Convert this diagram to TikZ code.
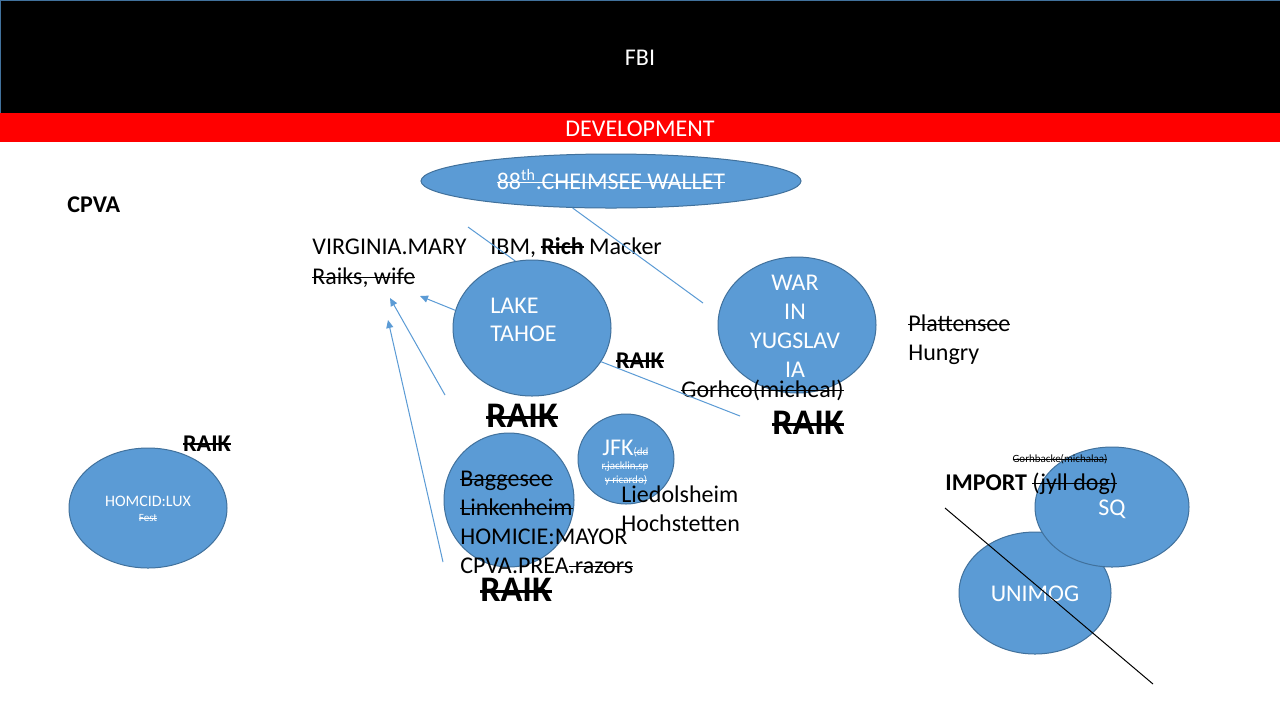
\documentclass[tikz,border=0pt]{standalone}
\usepackage{fontspec}
\setmainfont{Carlito}
\usetikzlibrary{shapes.geometric,arrows.meta}
\definecolor{blobfill}{HTML}{5B9BD5}
\definecolor{blobline}{HTML}{41719C}
\definecolor{linkblue}{HTML}{5B9BD5}
\newsavebox\strkbox
\newcommand\strk[2][0.6pt]{\sbox\strkbox{#2}\rlap{\rule[0.23em]{\wd\strkbox}{#1}}\usebox\strkbox}
\newcommand\bsout[1]{\strk[1.0pt]{#1}}
\newcommand\bbsout[1]{\strk[1.4pt]{#1}}
\newcommand\tsout[1]{\strk[0.35pt]{#1}}
\begin{document}
\begin{tikzpicture}[x=0.5pt,y=-0.5pt,
  blob/.style={ellipse, fill=blobfill, draw=blobline, line width=0.5pt, inner sep=0},
  txt/.style={inner sep=0, anchor=base west, font=\fontsize{12}{14}\selectfont},
  ctxt/.style={txt, anchor=base},
  wtxt/.style={txt, text=white},
  wctxt/.style={ctxt, text=white},
  bigraik/.style={ctxt, font=\fontsize{18}{20}\selectfont\bfseries},
  smallraik/.style={ctxt, font=\fontsize{12}{14}\selectfont\bfseries},
  tiny/.style={inner sep=0, anchor=base, font=\fontsize{5.5}{6}\selectfont},
  link/.style={draw=linkblue, line width=0.5pt},
  arr/.style={link, -{Triangle[length=4pt,width=3.5pt]}}]
\useasboundingbox (0,0) rectangle (1280,720);
\fill[white] (0,0) rectangle (1280,720);
% header bars
\node[fill=black, draw=blobline, line width=0.5pt, minimum width=640pt, minimum height=56.5pt, inner sep=0, anchor=north west] (fbibar) at (0,0) {};
\node[wctxt] (fbi) at (640,65) {FBI};
\node[fill=red, minimum width=640pt, minimum height=14.5pt, inner sep=0, anchor=north west] (devbar) at (0,113) {};
\node[wctxt] (dev) at (640,136) {DEVELOPMENT};
% ellipses
\node[blob, minimum width=190pt, minimum height=27pt] (cheim) at (611,181) {};
\node[wctxt] (cheimt) at (611,189) {\strk{88\textsuperscript{th}.CHEIMSEE WALLET}};
\node[blob, minimum width=79pt, minimum height=68pt] (tahoe) at (532,328) {};
\node[wtxt] (lake) at (490,313) {LAKE};
\node[wtxt] (tahoet) at (490,341) {TAHOE};
\node[blob, minimum width=79pt, minimum height=68pt] (war) at (797,325) {};
\node[wctxt] (war1) at (795,290) {WAR};
\node[wctxt] (war2) at (795,319) {IN};
\node[wctxt] (war3) at (795,348) {YUGSLAV};
\node[wctxt] (war4) at (795,377) {IA};
\node[blob, minimum width=79pt, minimum height=60pt] (homcid) at (148,508) {};
\node[wctxt, font=\fontsize{8}{9}\selectfont] (homcidt) at (148,506) {HOMCID:LUX};
\node[tiny, text=white] (fest) at (148,521) {\tsout{Fest}};
\node[blob, minimum width=65pt, minimum height=67pt] (bagg) at (509,500) {};
\node[blob, minimum width=48pt, minimum height=45pt] (jfk) at (626,459) {};
\node[wtxt] (jfkt) at (602,455) {JFK{\fontsize{5.5}{6}\selectfont\tsout{(dd}}};
\node[tiny, text=white] (jfk2) at (625,469) {\tsout{r,jacklin,sp}};
\node[tiny, text=white] (jfk3) at (626,483) {\tsout{y ricardo)}};
\node[blob, minimum width=76pt, minimum height=61pt] (unimog) at (1035,593) {};
\node[blob, minimum width=77pt, minimum height=60pt] (sq) at (1112,507) {};
\node[wctxt] (sqt) at (1112,515) {SQ};
\node[wctxt] (unimogt) at (1035,601) {UNIMOG};
% texts
\node[txt, font=\fontsize{12}{14}\selectfont\bfseries] (cpva) at (67,212) {CPVA};
\node[txt] (virginia) at (312,254) {VIRGINIA.MARY};
\node[txt] (raiks) at (312,284) {\strk{Raiks, wife}};
\node[txt] (ibm) at (490,254) {IBM, {\bfseries\bsout{Rich}} Macker};
\node[txt] (platt) at (908,331) {\strk{Plattensee}};
\node[txt] (hungry) at (908,360) {Hungry};
\node[smallraik] (raik1) at (640,368) {\bsout{RAIK}};
\node[txt] (gorhco) at (681,397) {\strk{Gorhco(micheal)}};
\node[bigraik] (raik2) at (808,434.5) {\bbsout{RAIK}};
\node[bigraik] (raik3) at (522,427.5) {\bbsout{RAIK}};
\node[smallraik] (raik4) at (207,451) {\bsout{RAIK}};
\node[txt] (bagt1) at (460,486) {\strk{Baggesee}};
\node[txt] (bagt2) at (460,515) {\strk{Linkenheim}};
\node[txt] (bagt3) at (460,544) {HOMICIE:MAYOR};
\node[txt] (bagt4) at (460,573) {CPVA.PREA\strk{.razors}};
\node[bigraik] (raik5) at (516,601.5) {\bbsout{RAIK}};
\node[txt] (lied) at (621,502) {Liedolsheim};
\node[txt] (hoch) at (621,531) {Hochstetten};
\node[txt] (import) at (945,490) {{\bfseries IMPORT} \strk{(jyll dog)}};
\node[tiny] (gorhb) at (1060,462) {\tsout{Gorhbacke(michalaa)}};
% connector ends
\coordinate (c1) at (703,303);
\coordinate (c2) at (468,227);
\coordinate (c3) at (740,416);
\coordinate (a1tip) at (420,296);
\coordinate (a2s) at (445,395);
\coordinate (a2tip) at (390,298);
\coordinate (a3s) at (443,562);
\coordinate (a3tip) at (388,320);
\coordinate (d1) at (945,508);
\coordinate (d2) at (1153,684);
% connectors
\draw[link] (cheim.215) -- (c1);
\draw[link] (c2) -- (tahoe.104);
\draw[link] (tahoe.-26) -- (c3);
\draw[arr] (tahoe.167) -- (a1tip);
\draw[arr] (a2s) -- (a2tip);
\draw[arr] (a3s) -- (a3tip);
\draw[black, line width=0.5pt] (d1) -- (d2);
\end{tikzpicture}
\end{document}
